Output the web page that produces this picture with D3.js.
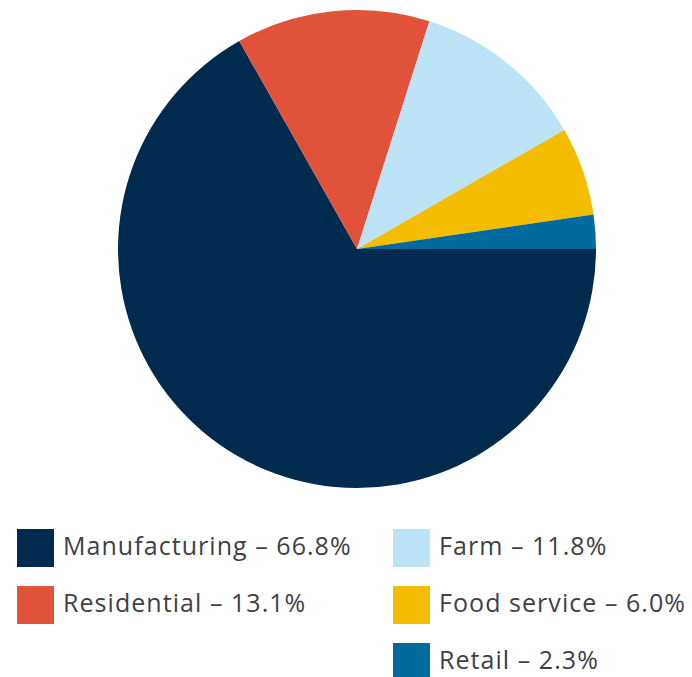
<!DOCTYPE html>
<html>
<head>
<meta charset="utf-8">
<script src="https://cdn.jsdelivr.net/npm/d3@7"></script>
<style>
  body { margin: 0; background: #ffffff; }
  svg { display: block; }
</style>
</head>
<body>
<div id="chart"></div>
<script>
const categories = ["Manufacturing", "Residential", "Farm", "Food service", "Retail"];
const shares = [66.8, 13.1, 11.8, 6.0, 2.3];
const colors = ["#012b4e", "#e0533a", "#bde3f7", "#f4bd00", "#006b9c"];
// legend placement: column, row for each category
const legendCol = [0, 0, 1, 1, 1];
const legendRow = [0, 1, 0, 1, 2];

window.onload = function () {
  const width = 692;
  const height = 677;

  const svg = d3.select("#chart")
    .append("svg")
    .attr("width", width)
    .attr("height", height);

  const data = categories.map((c, i) => ({ name: c, value: shares[i], color: colors[i] }));

  const pie = d3.pie()
    .value(d => d.value)
    .sort(null)
    .startAngle(Math.PI / 2)
    .endAngle(Math.PI / 2 + 2 * Math.PI);

  const arc = d3.arc().innerRadius(0).outerRadius(239);

  svg.append("g")
    .attr("transform", "translate(357, 249)")
    .selectAll("path")
    .data(pie(data))
    .enter()
    .append("path")
    .attr("d", arc)
    .attr("fill", d => d.data.color);

  const colX = d3.scaleOrdinal().domain([0, 1]).range([17, 393]);
  const rowY = d3.scaleLinear().domain([0, 1]).range([529, 586]);

  const legend = svg.append("g")
    .selectAll("g")
    .data(data)
    .enter()
    .append("g")
    .attr("transform", (d, i) => `translate(${colX(legendCol[i])}, ${rowY(legendRow[i])})`);

  legend.append("rect")
    .attr("width", 37)
    .attr("height", 38)
    .attr("fill", d => d.color);

  legend.append("text")
    .attr("x", 46)
    .attr("y", 26)
    .attr("font-family", "'Open Sans', sans-serif")
    .attr("font-weight", 400)
    .attr("font-size", 25)
    .attr("letter-spacing", 1.05)
    .attr("fill", "#3f3f46")
    .text(d => `${d.name} \u2013 ${d.value.toFixed(1)}%`);
}
</script>
</body>
</html>
